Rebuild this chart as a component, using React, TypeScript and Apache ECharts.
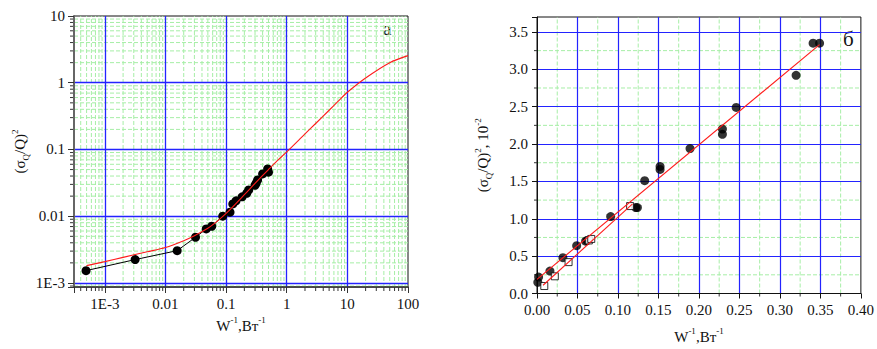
import React, { useEffect, useRef } from "react";
import * as echarts from "echarts";

// ---- Left chart (a), log-log ----
const leftW = [4.9e-4, 3.16e-3, 0.0156, 0.0313, 0.047, 0.058, 0.088, 0.116, 0.129, 0.146, 0.184, 0.219, 0.236, 0.3, 0.313, 0.331, 0.4, 0.484, 0.5];
const leftS = [1.53e-3, 2.24e-3, 3.05e-3, 4.84e-3, 6.45e-3, 7.08e-3, 0.01, 0.0115, 0.0153, 0.017, 0.0195, 0.0221, 0.0248, 0.029, 0.0313, 0.035, 0.043, 0.051, 0.0457];
const fitW = [5e-4, 1e-3, 2e-3, 5e-3, 0.01, 0.02, 0.03, 0.05, 0.07, 0.1, 0.2, 0.3, 0.5, 0.7, 1, 2, 3, 5, 7, 10, 20, 50, 100];
const fitS = [1.82e-3, 2.09e-3, 2.42e-3, 2.93e-3, 3.4e-3, 4.3e-3, 5.1e-3, 6.6e-3, 8.3e-3, 0.011, 0.021, 0.031, 0.05, 0.068, 0.092, 0.171, 0.245, 0.387, 0.524, 0.72, 1.18, 2.0, 2.55];
const leftXExp = [-3, -2, -1, 0, 1, 2];
const leftXLabels = ["1E-3", "0.01", "0.1", "1", "10", "100"];
const leftYExp = [-3, -2, -1, 0, 1];
const leftYLabels = ["1E-3", "0.01", "0.1", "1", "10"];

// ---- Right chart (б), linear ----
const circW = [0.001, 0.002, 0.016, 0.032, 0.049, 0.06, 0.062, 0.091, 0.122, 0.124, 0.133, 0.152, 0.152, 0.189, 0.229, 0.229, 0.246, 0.32, 0.341, 0.349];
const circS = [0.15, 0.22, 0.3, 0.48, 0.64, 0.7, 0.71, 1.03, 1.15, 1.15, 1.51, 1.7, 1.66, 1.94, 2.2, 2.13, 2.49, 2.92, 3.35, 3.35];
const sqW = [0.009, 0.022, 0.039, 0.064, 0.067, 0.115];
const sqS = [0.1, 0.23, 0.42, 0.71, 0.73, 1.17];
const fit1W = [0, 0.349];
const fit1S = [0.19, 3.33];
const fit2W = [0.0075, 0.118];
const fit2S = [0.11, 1.2];

const LX_MIN = 3.1e-4, LX_MAX = 100, LY_MIN = 8.7e-4, LY_MAX = 10;
const RX_MIN = 0, RX_MAX = 0.4, RY_MIN = 0, RY_MAX = 3.7;

const FONT = "'Liberation Serif', 'Times New Roman', Times, serif";
const BLUE = "#2323ff";
const GREEN = "#a6eea6";
const AXIS = "#333";

function logMinors(min: number, max: number): number[] {
  const out: number[] = [];
  for (let e = -5; e <= 3; e++) {
    for (let m = 2; m <= 9; m++) {
      const v = m * Math.pow(10, e);
      if (v > min && v < max) out.push(v);
    }
  }
  return out;
}
function linMinors(min: number, max: number, step: number, major: number): number[] {
  const out: number[] = [];
  for (let i = 0; min + i * step < max - 1e-9; i++) {
    const v = min + i * step;
    const r = v / major;
    if (Math.abs(r - Math.round(r)) > 1e-6) out.push(+v.toFixed(6));
  }
  return out;
}

function minorSeries(gi: number, dir: "x" | "y", vals: number[], lo: number, hi: number, tickLen: number) {
  return {
    type: "custom",
    xAxisIndex: gi,
    yAxisIndex: gi,
    z: 0,
    silent: true,
    clip: false,
    data: vals.map((v) => (dir === "x" ? [v, lo] : [lo, v])),
    renderItem: (params: any, api: any) => {
      let p0: number[], p1: number[], t: any;
      if (dir === "x") {
        const v = api.value(0);
        p0 = api.coord([v, lo]);
        p1 = api.coord([v, hi]);
        t = { x1: p0[0], y1: p0[1], x2: p0[0], y2: p0[1] + tickLen };
      } else {
        const v = api.value(1);
        p0 = api.coord([lo, v]);
        p1 = api.coord([hi, v]);
        t = { x1: p0[0] - tickLen, y1: p0[1], x2: p0[0], y2: p0[1] };
      }
      return {
        type: "group",
        children: [
          { type: "line", shape: { x1: p0[0], y1: p0[1], x2: p1[0], y2: p1[1] }, style: { stroke: GREEN, lineWidth: 1, lineDash: [4, 2] } },
          { type: "line", shape: t, style: { stroke: AXIS, lineWidth: 1 } },
        ],
      };
    },
  };
}

function logLabel(exps: number[], labels: string[]) {
  return (v: number) => {
    const l = Math.log10(v);
    const e = Math.round(l);
    if (Math.abs(l - e) > 0.01) return "";
    const i = exps.indexOf(e);
    return i >= 0 ? labels[i] : "";
  };
}

const rich = {
  b: { fontFamily: FONT, fontSize: 15, color: "#111", lineHeight: 20 },
  sup: { fontFamily: FONT, fontSize: 9, color: "#111", verticalAlign: "top", lineHeight: 10 },
  sub: { fontFamily: FONT, fontSize: 9, color: "#111", verticalAlign: "bottom", lineHeight: 10 },
};

export default function App() {
  const ref = useRef<HTMLDivElement>(null);
  useEffect(() => {
    if (!ref.current) return;
    const chart = echarts.init(ref.current, undefined, { renderer: "svg" });
    const labelStyle = { fontFamily: FONT, fontSize: 15, color: "#111" };
    const nameStyle = { rich, fontFamily: FONT, fontSize: 15, color: "#111" };
    const option: any = {
      animation: false,
      backgroundColor: "#fff",
      textStyle: { fontFamily: FONT },
      grid: [
        { left: 74, top: 16, width: 334, height: 271, show: true, borderColor: "#111", borderWidth: 1 },
        { left: 537, top: 17, width: 327, height: 281, show: true, borderColor: "#111", borderWidth: 1 },
      ],
      xAxis: [
        {
          type: "log", gridIndex: 0, min: LX_MIN, max: LX_MAX, z: 1,
          axisLine: { lineStyle: { color: AXIS, width: 1.5 } },
          axisTick: { show: true, length: 6, lineStyle: { color: AXIS } },
          axisLabel: { ...labelStyle, margin: 9, formatter: logLabel(leftXExp, leftXLabels), showMinLabel: true, showMaxLabel: true, hideOverlap: false },
          splitLine: { show: true, showMinLine: false, showMaxLine: false, lineStyle: { color: BLUE, width: 1.3 } },
          name: "{b|W}{sup|-1}{b|,Вт}{sup|-1}", nameLocation: "middle", nameGap: 27,
          nameTextStyle: nameStyle,
        },
        {
          type: "value", gridIndex: 1, min: RX_MIN, max: RX_MAX, interval: 0.05, z: 1,
          axisLine: { lineStyle: { color: "#111", width: 1 } },
          axisTick: { show: true, length: 5, lineStyle: { color: "#111" } },
          axisLabel: { ...labelStyle, margin: 9, formatter: (v: number) => v.toFixed(2) },
          splitLine: { show: true, showMinLine: false, showMaxLine: false, lineStyle: { color: BLUE, width: 1.2 } },
          name: "{b|W}{sup|-1}{b|,Вт}{sup|-1}", nameLocation: "middle", nameGap: 33,
          nameTextStyle: nameStyle,
        },
      ],
      yAxis: [
        {
          type: "log", gridIndex: 0, min: LY_MIN, max: LY_MAX, z: 1,
          axisLine: { lineStyle: { color: "#666", width: 2 } },
          axisTick: { show: true, length: 6, lineStyle: { color: AXIS } },
          axisLabel: { ...labelStyle, margin: 9, formatter: logLabel(leftYExp, leftYLabels), showMinLabel: true, showMaxLabel: true, hideOverlap: false },
          splitLine: { show: true, showMinLine: false, showMaxLine: false, lineStyle: { color: BLUE, width: 1.3 } },
          name: "{b|(σ}{sub|Q}{b|/Q)}{sup|2}", nameLocation: "middle", nameGap: 44, nameRotate: 90,
          nameTextStyle: nameStyle,
        },
        {
          type: "value", gridIndex: 1, min: RY_MIN, max: RY_MAX, interval: 0.5, z: 1,
          axisLine: { lineStyle: { color: "#111", width: 1 } },
          axisTick: { show: true, length: 5, lineStyle: { color: "#111" } },
          axisLabel: { ...labelStyle, margin: 9, formatter: (v: number) => (Math.abs(v / 0.5 - Math.round(v / 0.5)) < 1e-6 ? v.toFixed(1) : "") },
          splitLine: { show: true, showMinLine: false, showMaxLine: false, lineStyle: { color: BLUE, width: 1.2 } },
          name: "{b|(σ}{sub|Q}{b|/Q)}{sup|2}{b|, 10}{sup|-2}", nameLocation: "middle", nameGap: 44, nameRotate: 90,
          nameTextStyle: nameStyle,
        },
      ],
      graphic: [
        { type: "text", left: 383, top: 19, style: { text: "a", fontFamily: FONT, fontSize: 19, fill: "#111" } },
        { type: "text", left: 843, top: 28, style: { text: "б", fontFamily: FONT, fontSize: 21, fill: "#111" } },
      ],
      series: [
        minorSeries(0, "x", logMinors(LX_MIN, LX_MAX), LY_MIN, LY_MAX, 4),
        minorSeries(0, "y", logMinors(LY_MIN, LY_MAX), LX_MIN, LX_MAX, 4),
        minorSeries(1, "x", linMinors(RX_MIN, RX_MAX, 0.025, 0.05), RY_MIN, RY_MAX, 3),
        minorSeries(1, "y", linMinors(RY_MIN, RY_MAX, 0.25, 0.5), RX_MIN, RX_MAX, 3),
        {
          type: "line", xAxisIndex: 0, yAxisIndex: 0, z: 3,
          data: leftW.map((w, i) => [w, leftS[i]]),
          symbol: "circle", symbolSize: 9,
          lineStyle: { color: "#000", width: 1 },
          itemStyle: { color: "#000" },
        },
        {
          type: "line", xAxisIndex: 0, yAxisIndex: 0, z: 4, smooth: 0.3,
          data: fitW.map((w, i) => [w, fitS[i]]),
          symbol: "none",
          lineStyle: { color: "#ff1a1a", width: 1.1 },
        },
        {
          type: "scatter", xAxisIndex: 1, yAxisIndex: 1, z: 3, clip: false,
          data: circW.map((w, i) => [w, circS[i]]),
          symbol: "circle", symbolSize: 9,
          itemStyle: { color: "#000" },
        },
        {
          type: "scatter", xAxisIndex: 1, yAxisIndex: 1, z: 3,
          data: sqW.map((w, i) => [w, sqS[i]]),
          symbol: "rect", symbolSize: 7,
          itemStyle: { color: "#fff", borderColor: "#000", borderWidth: 1 },
        },
        {
          type: "line", xAxisIndex: 1, yAxisIndex: 1, z: 4,
          data: fit1W.map((w, i) => [w, fit1S[i]]),
          symbol: "none",
          lineStyle: { color: "#ff1a1a", width: 1.1 },
        },
        {
          type: "line", xAxisIndex: 1, yAxisIndex: 1, z: 4,
          data: fit2W.map((w, i) => [w, fit2S[i]]),
          symbol: "none",
          lineStyle: { color: "#ff1a1a", width: 1.1 },
        },
      ],
    };
    chart.setOption(option);
    return () => chart.dispose();
  }, []);
  return <div ref={ref} style={{ position: "absolute", left: 0, top: 0, width: 877, height: 349 }} />;
}
